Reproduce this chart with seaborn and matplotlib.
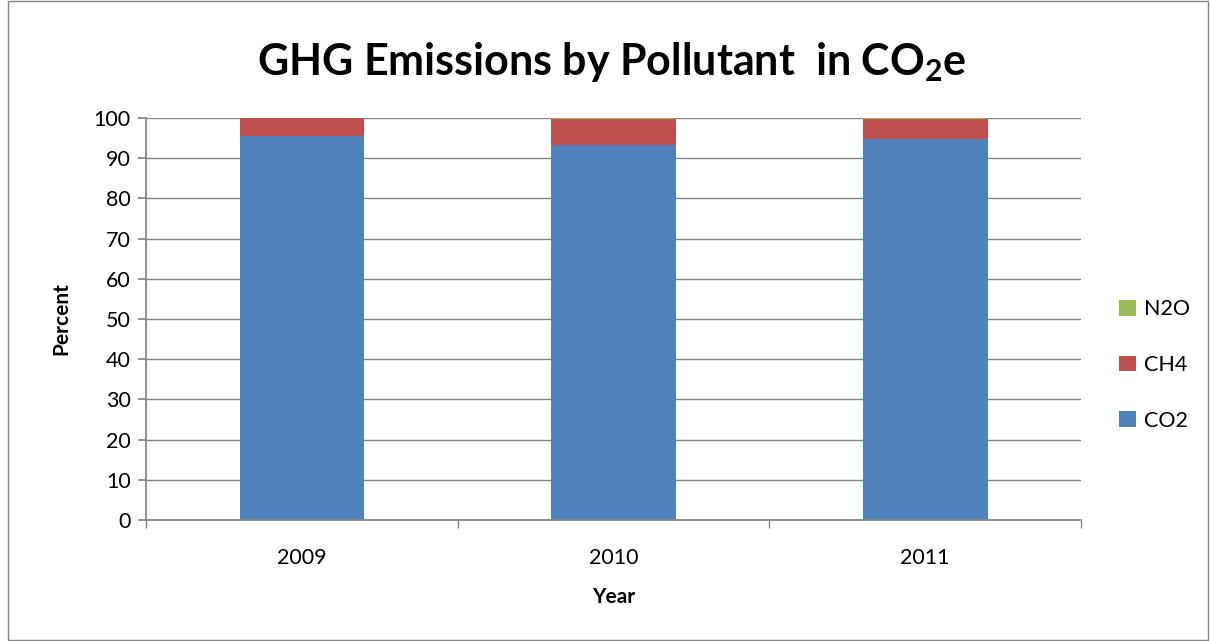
import matplotlib
matplotlib.use("Agg")
import matplotlib.pyplot as plt
import seaborn as sns
import pandas as pd
from matplotlib.patches import Rectangle, Patch

years = ["2009", "2010", "2011"]
co2 = [95.5, 93.3, 94.9]
ch4 = [4.5, 6.4, 4.8]
n2o = [0.0, 0.3, 0.3]
series_names = ["CO2", "CH4", "N2O"]
colors = ["#4F81BD", "#C0504D", "#9BBB59"]

sns.set_theme(style="white")
plt.rcParams["font.family"] = ["Lato", "DejaVu Sans"]
plt.rcParams["text.color"] = "black"
plt.rcParams["axes.labelcolor"] = "black"
plt.rcParams["xtick.color"] = "black"
plt.rcParams["ytick.color"] = "black"
plt.rcParams["mathtext.fontset"] = "custom"
plt.rcParams["mathtext.rm"] = "Lato:bold"
plt.rcParams["mathtext.default"] = "rm"

fig = plt.figure(figsize=(12.10, 6.41), dpi=100)
ax = fig.add_axes([146/1210, 1 - 520/641, (1081-146)/1210, (520-118)/641])

df = pd.DataFrame({"Year": years, "CO2": co2, "CH4": ch4, "N2O": n2o})
bottom = [0.0] * len(years)
for name, col in zip(series_names, colors):
    sns.barplot(data=df, x="Year", y=name, color=col, ax=ax, width=0.4,
                bottom=bottom, saturation=1, edgecolor="none", linewidth=0)
    bottom = [b + v for b, v in zip(bottom, df[name])]

ax.set_ylim(0, 100)
ax.set_xlim(-0.5, 2.5)
ax.set_yticks(range(0, 101, 10))
ax.yaxis.grid(True, color="#868686", linewidth=1)
ax.set_axisbelow(True)
for s in ["top", "right"]:
    ax.spines[s].set_visible(False)
ax.spines["left"].set_color("#868686")
ax.spines["bottom"].set_color("#868686")
ax.tick_params(axis="y", left=True, length=6, color="#868686", labelsize=15.5, pad=5)
ax.set_xticks([0, 1, 2])
ax.set_xticklabels(years)
ax.set_xticks([-0.5, 0.5, 1.5, 2.5], minor=True)
ax.tick_params(axis="x", which="major", bottom=False, labelsize=15.5, pad=14)
ax.tick_params(axis="x", which="minor", bottom=True, length=6, color="#868686")
ax.set_xlabel("Year", fontsize=15, fontweight="bold", labelpad=14)
ax.set_ylabel("Percent", fontsize=15, fontweight="bold", labelpad=16)

fig.text(612/1210, 1 - 62/641, "GHG Emissions by Pollutant  in CO$_2$e",
         ha="center", va="center", fontsize=31, fontweight="bold")

handles = [Patch(facecolor=c, edgecolor="none") for c in colors][::-1]
labels = series_names[::-1]
fig.legend(handles, labels, loc="center left", bbox_to_anchor=(1100/1210, 1 - 365/641),
           frameon=False, fontsize=15.5, handlelength=0.75, handleheight=0.75,
           labelspacing=1.65, handletextpad=0.4)

fig.patches.append(Rectangle((8/1210, 0.002), 1 - 10/1210, 0.996, transform=fig.transFigure,
                             fill=False, edgecolor="#868686", linewidth=1))

fig.savefig("out.png", dpi=100)
